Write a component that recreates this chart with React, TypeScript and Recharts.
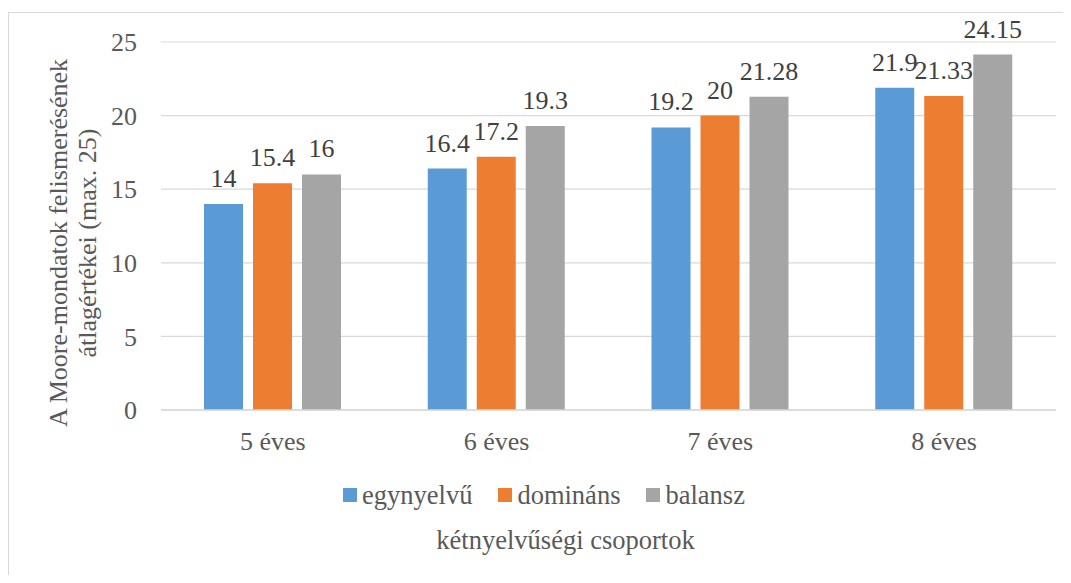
import React from 'react';
import { BarChart, Bar, XAxis, YAxis, CartesianGrid, Legend, LabelList } from 'recharts';

const categories = ['5 éves', '6 éves', '7 éves', '8 éves'];
const egynyelvu = [14, 16.4, 19.2, 21.9];
const dominans = [15.4, 17.2, 20, 21.33];
const balansz = [16, 19.3, 21.28, 24.15];
const yTicks = [0, 5, 10, 15, 20, 25];
const seriesNames = ['egynyelvű', 'domináns', 'balansz'];
const seriesColors = ['#5b9bd5', '#ed7d31', '#a5a5a5'];
const yLabelLines = ['A Moore-mondatok felismerésének', 'átlagértékei (max. 25)'];
const xTitle = 'kétnyelvűségi csoportok';

const data = categories.map((c, i) => ({
  cat: c,
  egynyelvu: egynyelvu[i],
  dominans: dominans[i],
  balansz: balansz[i],
}));

const FONT = '"Liberation Serif", "Times New Roman", serif';
const TXT = '#595959';
const LBL = '#404040';
const FS = 26;

const LegendContent = () => (
  <div style={{ display: 'flex', alignItems: 'center', height: 30, fontFamily: FONT, fontSize: 26.5, color: TXT, lineHeight: '30px', whiteSpace: 'nowrap' }}>
    {seriesNames.map((n, i) => (
      <div key={n} style={{ display: 'flex', alignItems: 'center', marginRight: 26 }}>
        <span style={{ display: 'inline-block', width: 14, height: 14, background: seriesColors[i], marginRight: 5 }} />
        <span>{n}</span>
      </div>
    ))}
  </div>
);

const YLabel = () => (
  <g>
    {yLabelLines.map((l, i) => {
      const x = 59 + i * 29;
      const y = 235;
      return (
        <text key={i} x={x} y={y} transform={`rotate(-90 ${x} ${y})`} textAnchor="middle" fontFamily={FONT} fontSize={FS} fill={TXT}>
          {l}
        </text>
      );
    })}
  </g>
);

const XTitle = (props: any) => {
  const vb = props.viewBox || {};
  const cx = vb.x + vb.width / 2 - 43;
  return (
    <text x={cx} y={541} textAnchor="middle" fontFamily={FONT} fontSize={26.5} fill={TXT}>
      {xTitle}
    </text>
  );
};

const tickStyle = { fontFamily: FONT, fontSize: FS, fill: TXT };
const labelStyle = { fontFamily: FONT, fontSize: FS, fill: LBL };

export default function App() {
  return (
    <div style={{ position: 'relative', width: 1063, height: 567, overflow: 'hidden', background: '#fff', fontFamily: FONT }}>
      <div style={{ position: 'absolute', top: 4, left: 0, width: 1063, height: 563, borderTop: '1.5px solid #d9d9d9', borderLeft: '1.5px solid #d9d9d9', boxSizing: 'border-box' }} />
      <div style={{ position: 'absolute', top: 0, left: 0 }}>
        <BarChart width={1063} height={567} data={data} margin={{ top: 34, right: 15, left: 0, bottom: 125 }} barSize={39} barGap={10}>
          <CartesianGrid vertical={false} stroke="#d9d9d9" strokeWidth={1.2} />
          <XAxis
            dataKey="cat"
            height={40}
            tickSize={0}
            tickMargin={22}
            axisLine={{ stroke: '#d9d9d9', strokeWidth: 1.5 }}
            tickLine={false}
            tick={tickStyle}
            label={{ content: XTitle }}
          />
          <YAxis
            width={153}
            domain={[0, 25]}
            ticks={yTicks}
            interval={0}
            tickSize={0}
            tickMargin={24}
            axisLine={false}
            tickLine={false}
            tick={tickStyle}
            label={{ content: YLabel }}
          />
          <Legend
            verticalAlign="middle"
            align="center"
            layout="horizontal"
            content={LegendContent}
            wrapperStyle={{ top: 472, left: 335, width: 460 }}
          />
          <Bar dataKey="egynyelvu" name={seriesNames[0]} fill={seriesColors[0]} isAnimationActive={false}>
            <LabelList dataKey="egynyelvu" position="top" offset={17} {...labelStyle} />
          </Bar>
          <Bar dataKey="dominans" name={seriesNames[1]} fill={seriesColors[1]} isAnimationActive={false}>
            <LabelList dataKey="dominans" position="top" offset={17} {...labelStyle} />
          </Bar>
          <Bar dataKey="balansz" name={seriesNames[2]} fill={seriesColors[2]} isAnimationActive={false}>
            <LabelList dataKey="balansz" position="top" offset={17} {...labelStyle} />
          </Bar>
        </BarChart>
      </div>
    </div>
  );
}
